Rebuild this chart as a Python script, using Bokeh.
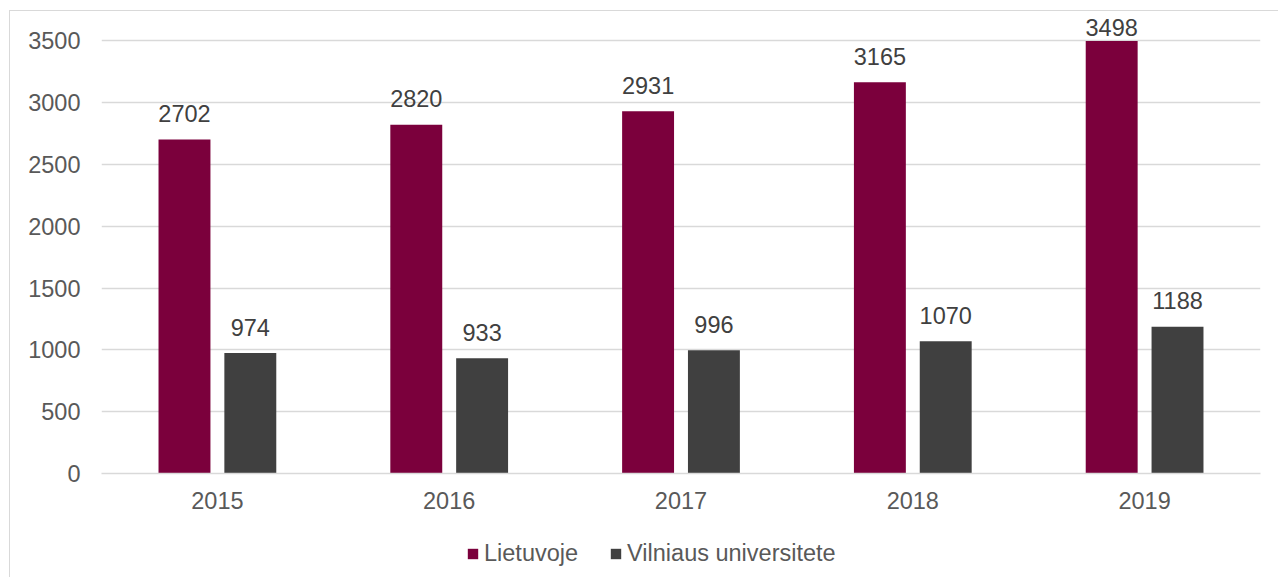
from bokeh.plotting import figure
from bokeh.layouts import column
from bokeh.models import ColumnDataSource, FixedTicker, Legend, LegendItem, Range1d
from bokeh.core.properties import value
from bokeh.embed import file_html
from bokeh.resources import INLINE

# ---- data ----
years = ["2015", "2016", "2017", "2018", "2019"]
lietuvoje = [2702, 2820, 2931, 3165, 3498]
vilniaus_u = [974, 933, 996, 1070, 1188]
y_ticks = [0, 500, 1000, 1500, 2000, 2500, 3000, 3500]
series_names = ["Lietuvoje", "Vilniaus universitete"]
colors = ["#7B003C", "#404040"]

FONT = "Liberation Sans"
FS = "23.5px"
W = 1268
H1 = 510
H2 = 56
MB_L, MB_R, MB_T, MB_B = 91, 18, 4, 48
FRAME_H = H1 - MB_T - MB_B
Y_END = FRAME_H * 3500 / 432.7
px_per_unit = FRAME_H / Y_END

xs = list(range(len(years)))
dodge = 0.142
bar_w = 0.224

BASE_FIX = -10  # renderer baseline correction

def label_offsets(vals):
    offs = []
    for v in vals:
        top_px = v * px_per_unit + 16 + 17
        offs.append(-16 + max(0, top_px - (FRAME_H - 5)) + BASE_FIX)
    return offs

src1 = ColumnDataSource(dict(x=[i - dodge for i in xs], top=lietuvoje,
                             txt=[str(v) for v in lietuvoje], off=label_offsets(lietuvoje)))
src2 = ColumnDataSource(dict(x=[i + dodge for i in xs], top=vilniaus_u,
                             txt=[str(v) for v in vilniaus_u], off=label_offsets(vilniaus_u)))

p = figure(width=W, height=H1, output_backend="svg", toolbar_location=None,
           x_range=Range1d(-0.5, len(years) - 0.5), y_range=Range1d(0, Y_END),
           min_border_left=MB_L, min_border_right=MB_R,
           min_border_top=MB_T, min_border_bottom=MB_B)
p.outline_line_color = None
p.background_fill_color = "white"
p.border_fill_color = "white"

p.vbar(x="x", top="top", bottom=0, width=bar_w, source=src1,
       fill_color=colors[0], line_color=None)
p.vbar(x="x", top="top", bottom=0, width=bar_w, source=src2,
       fill_color=colors[1], line_color=None)

for s in (src1, src2):
    p.text(x="x", y="top", text="txt", y_offset="off", source=s,
           text_align="center", text_baseline="alphabetic",
           text_font=value(FONT), text_font_size=FS, text_color="#404040")

p.yaxis.ticker = FixedTicker(ticks=y_ticks)
p.xaxis.ticker = FixedTicker(ticks=xs)
p.xaxis.major_label_overrides = {i: years[i] for i in xs}

for ax in (p.xaxis[0], p.yaxis[0]):
    ax.major_tick_line_color = None
    ax.minor_tick_line_color = None
    ax.major_tick_out = 0
    ax.major_tick_in = 0
    ax.major_label_text_font = FONT
    ax.major_label_text_font_size = FS
    ax.major_label_text_color = "#595959"
p.yaxis.axis_line_color = None
p.xaxis.axis_line_color = "#d9d9d9"
p.xaxis.axis_line_width = 1.3
p.yaxis.major_label_standoff = 21
p.xaxis.major_label_standoff = 18

p.xgrid.visible = False
p.ygrid.grid_line_color = "#d9d9d9"
p.ygrid.grid_line_width = 1.3

# ---- legend strip (frame aligned with main plot's frame) ----
p2 = figure(width=W, height=H2, output_backend="svg", toolbar_location=None,
            x_range=Range1d(-0.5, len(years) - 0.5), y_range=Range1d(0, Y_END),
            x_axis_type=None, y_axis_type=None,
            min_border_left=0, min_border_right=0, min_border_top=0, min_border_bottom=0)
p2.outline_line_color = None
p2.grid.visible = False
p2.background_fill_color = "white"
p2.border_fill_color = "white"
lr1 = p2.vbar(x="x", top="top", width=bar_w, source=src1,
              fill_color=colors[0], line_color=None, visible=False)
lr2 = p2.vbar(x="x", top="top", width=bar_w, source=src2,
              fill_color=colors[1], line_color=None, visible=False)

legend = Legend(items=[LegendItem(label=series_names[0], renderers=[lr1]),
                       LegendItem(label=series_names[1], renderers=[lr2])],
                orientation="horizontal", location=(365, 10),
                glyph_width=13, glyph_height=13, label_standoff=5, spacing=31,
                padding=0, margin=0, border_line_color=None, background_fill_alpha=0,
                inactive_fill_alpha=0,
                label_text_font=FONT, label_text_font_size=FS, label_text_color="#595959")
p2.add_layout(legend, "center")

layout = column(p, p2, spacing=0,
                styles={"margin-left": "9px", "margin-top": "10px",
                        "border-left": "1px solid #d9d9d9", "border-top": "1px solid #d9d9d9"})

open("out.html", "w").write(file_html(layout, INLINE))
